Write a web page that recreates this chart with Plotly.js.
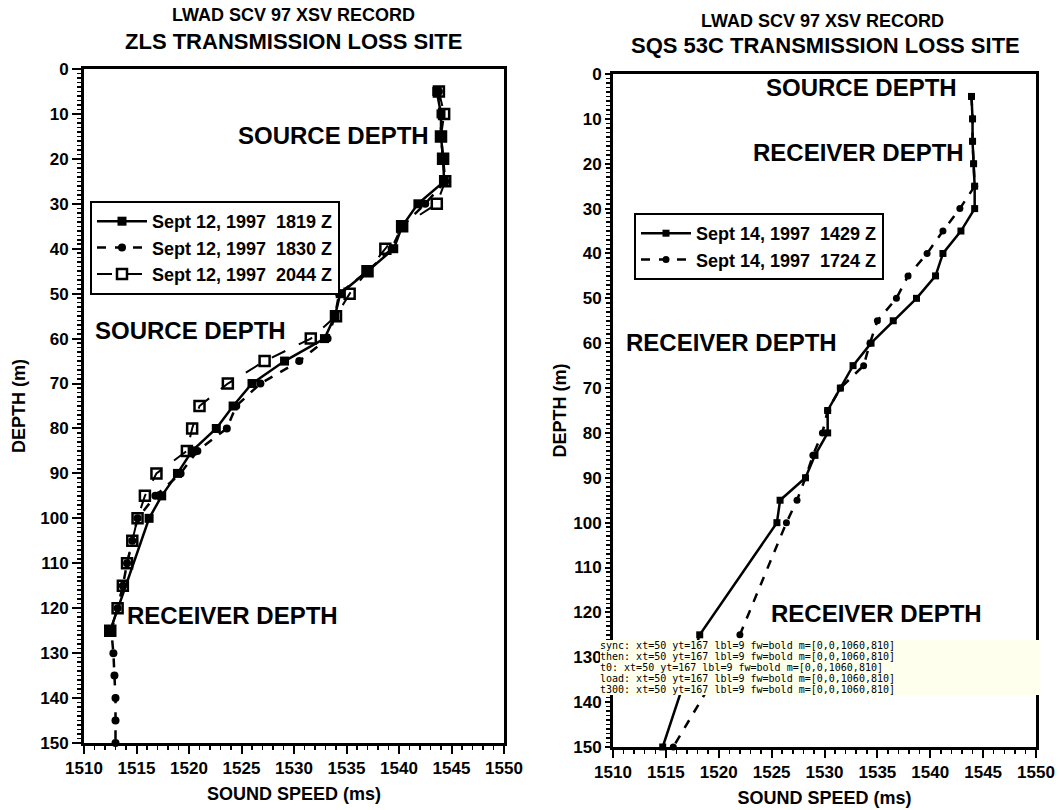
<!DOCTYPE html>
<html>
<head>
<meta charset="utf-8">
<script src="https://cdn.plot.ly/plotly-3.0.1.min.js"></script>
<style>html,body{margin:0;padding:0;background:#fff;}#chart{width:1060px;height:810px;}#dbg{position:absolute;left:600px;top:640px;width:440px;font:10px monospace;background:#ffe;white-space:pre-wrap;word-break:break-all;}</style>
</head>
<body>
<div id="chart"></div>
<div id="dbg"></div>
<script>
var log = [];
window.onerror = function(m){ log.push('E:' + m); };
var _w = console.warn; console.warn = function(){ log.push('W:' + Array.prototype.join.call(arguments,' ').slice(0,120)); };
var _l = console.log; console.log = function(){ log.push('L:' + Array.prototype.join.call(arguments,' ').slice(0,120)); };

var zlsDepth1819 = [5,10,15,20,25,30,35,40,45,50,55,60,65,70,75,80,85,90,95,100,125];
var zlsSpeed1819 = [1543.6,1544,1544,1544.2,1544.3,1541.8,1540.3,1539.5,1537,1534.4,1533.9,1532.9,1529.1,1526,1524.2,1522.6,1520.3,1518.9,1517.4,1516.2,1512.5];
var zlsDepth1830 = [5,10,15,20,25,30,35,40,45,50,55,60,65,70,75,80,85,90,95,100,105,110,115,120,125,130,135,140,145,150];
var zlsSpeed1830 = [1543.8,1544,1544,1544.2,1544.4,1542.5,1540.3,1539.3,1537,1534.3,1533.9,1533.2,1530.5,1526.8,1524.5,1523.6,1520.8,1519.2,1516.8,1515.1,1514.6,1514.1,1513.7,1513.2,1512.6,1512.8,1512.9,1513,1513,1513];
var zlsDepth2044 = [5,10,15,20,25,30,35,40,45,50,55,60,65,70,75,80,85,90,95,100,105,110,115,120,125];
var zlsSpeed2044 = [1543.8,1544.3,1544,1544.2,1544.4,1543.6,1540.3,1538.7,1537,1535.3,1534,1531.6,1527.2,1523.7,1521,1520.3,1519.8,1516.9,1515.8,1515.1,1514.6,1514.1,1513.7,1513.2,1512.5];
var sqsDepth1429 = [5,10,15,20,25,30,35,40,45,50,55,60,65,70,75,80,85,90,95,100,125,150];
var sqsSpeed1429 = [1543.9,1544,1544,1544.1,1544.2,1544.2,1542.9,1541.2,1540.5,1538.7,1536.5,1534.4,1532.7,1531.5,1530.3,1530.3,1529.1,1528.2,1525.8,1525.5,1518.2,1514.7];
var sqsDepth1724 = [5,10,15,20,25,30,35,40,45,50,55,60,65,70,75,80,85,90,95,100,125,150];
var sqsSpeed1724 = [1543.9,1544,1544,1544.1,1544.2,1542.8,1541.2,1539.7,1537.9,1536.8,1535,1534.3,1533.7,1531.5,1530.3,1529.8,1528.9,1528.2,1527.4,1526.4,1522,1515.7];
var legendLeft = ["Sept 12, 1997\u00a0\u00a01819 Z", "Sept 12, 1997\u00a0\u00a01830 Z", "Sept 12, 1997\u00a0\u00a02044 Z"];
var legendRight = ["Sept 14, 1997\u00a0\u00a01429 Z", "Sept 14, 1997\u00a0\u00a01724 Z"];
var depthTicks = [0,10,20,30,40,50,60,70,80,90,100,110,120,130,140,150];
var speedTicks = [1510,1515,1520,1525,1530,1535,1540,1545,1550];
var FONT = "Arial, 'Liberation Sans', sans-serif";
var W = 1060, H = 810;

var traces = [
  {x: zlsSpeed1819, y: zlsDepth1819, name: legendLeft[0], xaxis:'x', yaxis:'y', legend:'legend',
   mode:'lines+markers', line:{color:'black', width:2.5}, marker:{symbol:'square', size:9, color:'black'}, cliponaxis:false},
  {x: zlsSpeed1830, y: zlsDepth1830, name: legendLeft[1], xaxis:'x', yaxis:'y', legend:'legend',
   mode:'lines+markers', line:{color:'black', width:2.5, dash:'dash'}, marker:{symbol:'circle', size:8, color:'black'}, cliponaxis:false},
  {x: zlsSpeed2044, y: zlsDepth2044, name: legendLeft[2], xaxis:'x', yaxis:'y', legend:'legend',
   mode:'lines+markers', line:{color:'black', width:2, dash:'longdash'}, marker:{symbol:'square-open', size:10, color:'black', line:{width:2.5, color:'black'}}, cliponaxis:false},
  {x: sqsSpeed1429, y: sqsDepth1429, name: legendRight[0], xaxis:'x2', yaxis:'y2', legend:'legend2',
   mode:'lines+markers', line:{color:'black', width:2.5}, marker:{symbol:'square', size:7, color:'black'}, cliponaxis:false},
  {x: sqsSpeed1724, y: sqsDepth1724, name: legendRight[1], xaxis:'x2', yaxis:'y2', legend:'legend2',
   mode:'lines+markers', line:{color:'black', width:2.5, dash:'dash'}, marker:{symbol:'circle', size:7, color:'black'}, cliponaxis:false}
];
var tickFont = {family:FONT, size:17, color:'black', weight:'bold'};
function xAxis(domain, anchor) {
  return {domain: domain, anchor: anchor, range:[1510,1550], tickmode:'array', tickvals: speedTicks,
    ticks:'outside', ticklen:8, tickwidth:2, tickcolor:'black',
    minor:{dtick:1, ticks:'outside', ticklen:4, tickwidth:1.5, tickcolor:'black'},
    showline:true, linecolor:'black', linewidth:3, mirror:true, showgrid:false, zeroline:false,
    tickfont: tickFont, title:{text:'SOUND SPEED (ms)', font:{family:FONT, size:18, color:'black', weight:'bold'}, standoff:10},
    automargin:false, fixedrange:true};
}
function yAxis(domain, anchor, tl, so) {
  return {domain: domain, anchor: anchor, range:[150,0], tickmode:'array', tickvals: depthTicks,
    ticks:'outside', ticklen:tl, tickwidth:2, tickcolor:'black',
    minor:{dtick:1, ticks:'outside', ticklen:4, tickwidth:1.5, tickcolor:'black'},
    showline:true, linecolor:'black', linewidth:3, mirror:true, showgrid:false, zeroline:false,
    tickfont: tickFont, title:{text:'DEPTH (m)', font:{family:FONT, size:18, color:'black', weight:'bold'}, standoff:so},
    automargin:false, fixedrange:true};
}
function px(x){ return x / W; }
function py(y){ return 1 - y / H; }
function titleAnn(text, cx, cy, size) {
  return {text:text, xref:'paper', yref:'paper', x:px(cx), y:py(cy), xanchor:'center', yanchor:'middle',
          showarrow:false, font:{family:FONT, size:size, color:'black', weight:'bold'}};
}
function dataAnn(text, xr, yr, x, y) {
  return {text:text, xref:xr, yref:yr, x:x, y:y, xanchor:'center', yanchor:'middle', showarrow:false,
          font:{family:FONT, size:24, color:'black', weight:'bold'}};
}
var legendFont = {family:FONT, size:18, color:'black', weight:'bold'};
var layout = {
  width: W, height: H, margin:{l:0, r:0, t:0, b:0, pad:0}, showlegend:true,
  xaxis: xAxis([84/W, 504/W], 'y'), yaxis: yAxis([1-743/H, 1-69/H], 'x', 9, 10),
  xaxis2: xAxis([613/W, 1036/W], 'y2'), yaxis2: yAxis([1-747/H, 1-74/H], 'x2', 5, 2),
  legend: {x:px(90), y:py(201), xanchor:'left', yanchor:'top', bgcolor:'white', bordercolor:'black', borderwidth:2,
           font:legendFont, itemwidth:50, tracegroupgap:0, itemclick:false},
  legend2: {x:px(634), y:py(213), xanchor:'left', yanchor:'top', bgcolor:'white', bordercolor:'black', borderwidth:2,
           font:legendFont, itemwidth:50, tracegroupgap:0, itemclick:false},
  annotations: [
    titleAnn('LWAD SCV 97 XSV RECORD', 293, 15, 18), titleAnn('ZLS TRANSMISSION LOSS SITE', 293, 42, 22),
    titleAnn('LWAD SCV 97 XSV RECORD', 822, 21, 18), titleAnn('SQS 53C TRANSMISSION LOSS SITE', 825, 45, 22),
    dataAnn('SOURCE DEPTH', 'x', 'y', 1533.8, 14.7), dataAnn('SOURCE DEPTH', 'x', 'y', 1520.1, 58.1),
    dataAnn('RECEIVER DEPTH', 'x', 'y', 1524.1, 121.6), dataAnn('SOURCE DEPTH', 'x2', 'y2', 1533.5, 2.9),
    dataAnn('RECEIVER DEPTH', 'x2', 'y2', 1533.2, 17.4), dataAnn('RECEIVER DEPTH', 'x2', 'y2', 1521.2, 59.9),
    dataAnn('RECEIVER DEPTH', 'x2', 'y2', 1534.9, 120.3)
  ]
};
function snap(tag) {
  var gd = document.getElementById('chart');
  var t = document.querySelector('g.xtick text');
  var s = tag + ': xt=' + document.querySelectorAll('path.xtick').length +
    ' yt=' + document.querySelectorAll('path.ytick').length +
    ' lbl=' + document.querySelectorAll('g.xtick').length +
    ' fw=' + (t ? t.style.fontWeight : '-') +
    ' m=' + (gd._fullLayout && gd._fullLayout._size ? JSON.stringify([gd._fullLayout._size.l, gd._fullLayout._size.t, gd._fullLayout._size.w, gd._fullLayout._size.h]) : '-');
  log.push(s);
  document.getElementById('dbg').textContent = log.join('\n').slice(0, 1500);
}
var p;
try {
  p = Plotly.newPlot('chart', traces, layout, {displayModeBar:false, staticPlot:true});
  snap('sync');
  p.then(function(){ snap('then'); }, function(e){ log.push('REJ ' + e); snap('rej'); });
} catch (e) { log.push('THROW ' + e); snap('throw'); }
setTimeout(function(){ snap('t0'); }, 0);
setTimeout(function(){ snap('t300'); }, 300);
window.addEventListener('load', function(){ snap('load'); });
</script>
</body>
</html>
